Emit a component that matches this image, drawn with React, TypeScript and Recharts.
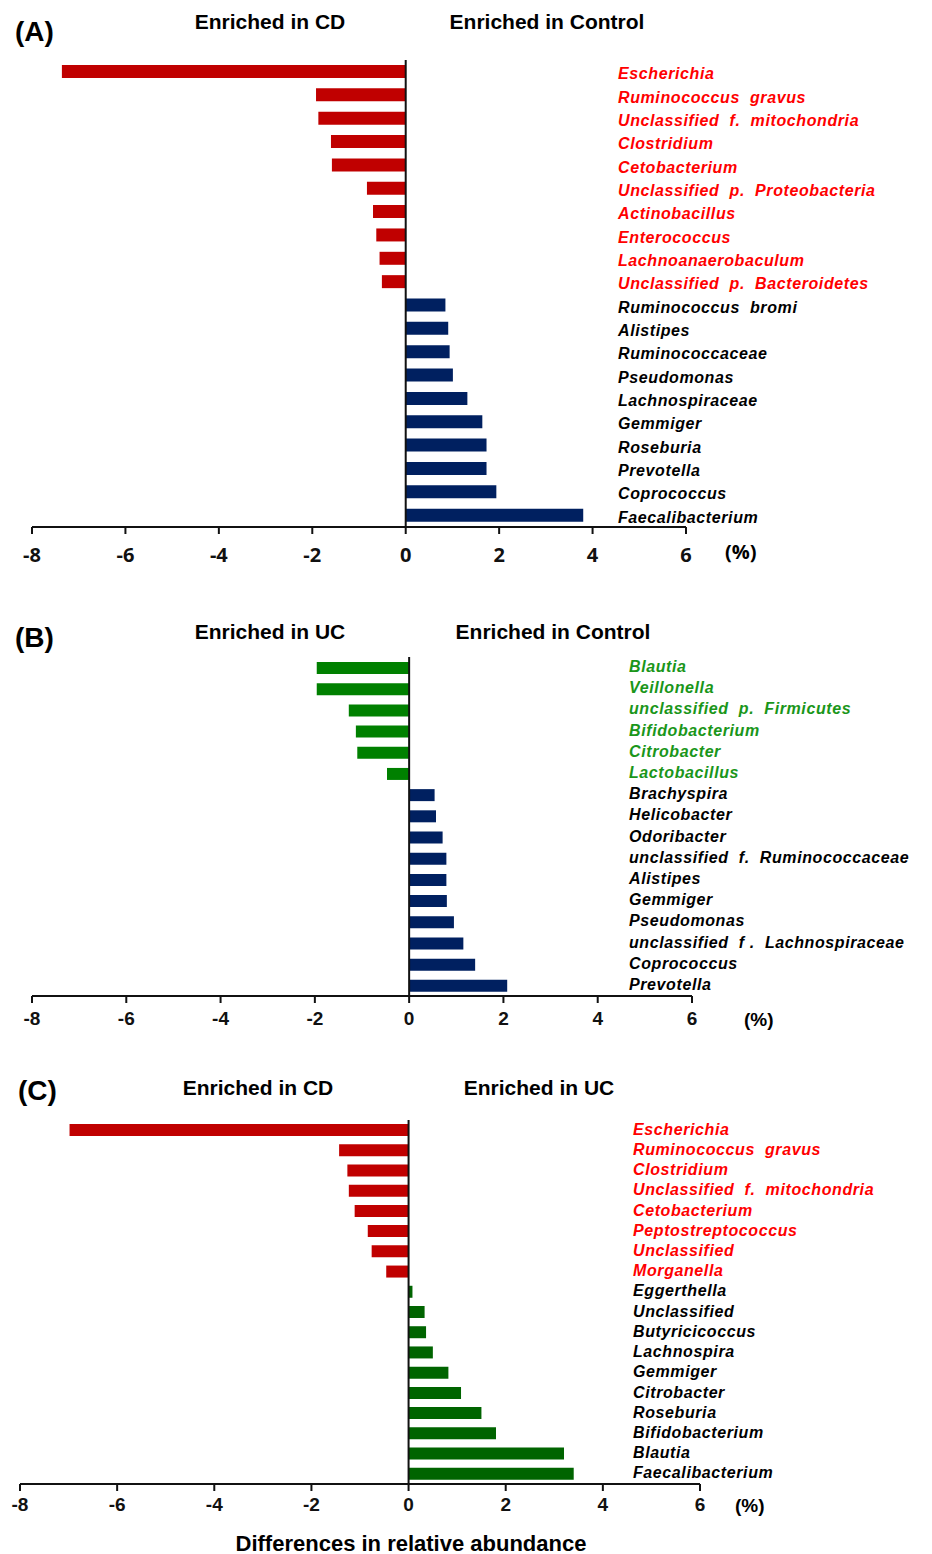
import React from 'react';
import { BarChart, Bar, XAxis, YAxis, ReferenceLine, Cell } from 'recharts';

// ---------- data ----------
const xTicks = [-8, -6, -4, -2, 0, 2, 4, 6];

const aCategories = [
  'Escherichia', 'Ruminococcus  gravus', 'Unclassified  f.  mitochondria', 'Clostridium', 'Cetobacterium',
  'Unclassified  p.  Proteobacteria', 'Actinobacillus', 'Enterococcus', 'Lachnoanaerobaculum',
  'Unclassified  p.  Bacteroidetes', 'Ruminococcus  bromi', 'Alistipes', 'Ruminococcaceae', 'Pseudomonas',
  'Lachnospiraceae', 'Gemmiger', 'Roseburia', 'Prevotella', 'Coprococcus', 'Faecalibacterium',
];
const aValues = [
  -7.36, -1.92, -1.87, -1.6, -1.58, -0.83, -0.7, -0.63, -0.56, -0.51,
  0.85, 0.91, 0.94, 1.01, 1.32, 1.64, 1.73, 1.73, 1.94, 3.8,
];

const bCategories = [
  'Blautia', 'Veillonella', 'unclassified  p.  Firmicutes', 'Bifidobacterium', 'Citrobacter', 'Lactobacillus',
  'Brachyspira', 'Helicobacter', 'Odoribacter', 'unclassified  f.  Ruminococcaceae', 'Alistipes', 'Gemmiger',
  'Pseudomonas', 'unclassified  f .  Lachnospiraceae', 'Coprococcus', 'Prevotella',
];
const bValues = [
  -1.96, -1.96, -1.28, -1.13, -1.1, -0.47,
  0.54, 0.57, 0.71, 0.79, 0.79, 0.8, 0.95, 1.15, 1.4, 2.08,
];

const cCategories = [
  'Escherichia', 'Ruminococcus  gravus', 'Clostridium', 'Unclassified  f.  mitochondria', 'Cetobacterium',
  'Peptostreptococcus', 'Unclassified', 'Morganella', 'Eggerthella', 'Unclassified', 'Butyricicoccus',
  'Lachnospira', 'Gemmiger', 'Citrobacter', 'Roseburia', 'Bifidobacterium', 'Blautia', 'Faecalibacterium',
];
const cValues = [
  -6.98, -1.43, -1.26, -1.23, -1.11, -0.84, -0.76, -0.46,
  0.08, 0.33, 0.36, 0.5, 0.82, 1.08, 1.5, 1.8, 3.2, 3.4,
];

// ---------- styles ----------
const RED_BAR = '#C00000';
const NAVY_BAR = '#002060';
const GREEN_BAR_B = '#008000';
const GREEN_BAR_C = '#006400';
const RED_TEXT = '#FF0000';
const GREEN_TEXT = '#1A961A';
const SANS = '"Liberation Sans", Arial, sans-serif';
const OPEN = '"Open Sans", "Liberation Sans", sans-serif';

type PanelProps = {
  top: number;
  height: number;
  categories: string[];
  values: number[];
  negBar: string;
  posBar: string;
  negText: string;
  posText: string;
  plotTop: number;
  axisY: number;
  axisLeft: number;
  axisRight: number;
  barSize: number;
  labelX: number;
  tickMargin: number;
  tickFont: string;
  tickSizeFont: number;
  labelDy: number;
};

function Panel(p: PanelProps) {
  const data = p.categories.map((name, i) => ({ name: `${i}|${name}`, value: p.values[i] }));
  const xAxisHeight = 40;
  const yAxisWidth = 932 - p.axisRight;
  const LabelTick = (props: any) => {
    const { x, y, payload } = props;
    const raw = String(payload.value);
    const idx = Number(raw.split('|')[0]);
    const label = raw.slice(raw.indexOf('|') + 1);
    const color = p.values[idx] < 0 ? p.negText : p.posText;
    return (
      <text
        x={x + (p.labelX - p.axisRight)}
        y={y + p.labelDy}
        dominantBaseline="central"
        textAnchor="start"
        fill={color}
        style={{ fontFamily: SANS, fontWeight: 700, fontStyle: 'italic', fontSize: 16, letterSpacing: 0.6, whiteSpace: 'pre' }}
      >
        {label}
      </text>
    );
  };
  return (
    <div style={{ position: 'absolute', left: 0, top: p.top }}>
      <BarChart
        width={932}
        height={p.height}
        data={data}
        layout="vertical"
        margin={{ top: p.plotTop, left: p.axisLeft, right: 0, bottom: p.height - p.axisY - xAxisHeight }}
        barSize={p.barSize}
      >
        <XAxis
          type="number"
          domain={[-8, 6]}
          ticks={xTicks}
          interval={0}
          height={xAxisHeight}
          axisLine={{ stroke: '#111', strokeWidth: 2 }}
          tickLine={{ stroke: '#111', strokeWidth: 2 }}
          tickSize={7}
          tickMargin={p.tickMargin}
          tick={{ fill: '#111', fontSize: p.tickSizeFont, fontWeight: 700, fontFamily: p.tickFont }}
        />
        <YAxis
          type="category"
          dataKey="name"
          orientation="right"
          width={yAxisWidth}
          axisLine={false}
          tickLine={false}
          tickSize={0}
          tickMargin={0}
          interval={0}
          tick={<LabelTick />}
        />
        <ReferenceLine x={0} stroke="#111" strokeWidth={2} ifOverflow="extendDomain" />
        <Bar dataKey="value" isAnimationActive={false}>
          {data.map((d, i) => (
            <Cell key={i} fill={d.value < 0 ? p.negBar : p.posBar} />
          ))}
        </Bar>
      </BarChart>
    </div>
  );
}

const headerStyle: React.CSSProperties = { fontFamily: SANS, fontWeight: 700, fontSize: 21 };
const letterStyle: React.CSSProperties = { fontFamily: SANS, fontWeight: 700, fontSize: 28 };

export default function App() {
  return (
    <div style={{ position: 'absolute', left: 0, top: 0, width: 932, height: 1554, background: '#fff', overflow: 'hidden' }}>
      <Panel
        top={0} height={580} categories={aCategories} values={aValues}
        negBar={RED_BAR} posBar={NAVY_BAR} negText={RED_TEXT} posText="#000"
        plotTop={60} axisY={527} axisLeft={32} axisRight={686} barSize={13} labelX={618}
        tickMargin={14} tickFont={OPEN} tickSizeFont={20} labelDy={2}
      />
      <Panel
        top={600} height={440} categories={bCategories} values={bValues}
        negBar={GREEN_BAR_B} posBar={NAVY_BAR} negText={GREEN_TEXT} posText="#000"
        plotTop={57} axisY={396} axisLeft={32} axisRight={692} barSize={12} labelX={629}
        tickMargin={9} tickFont={SANS} tickSizeFont={19} labelDy={-1}
      />
      <Panel
        top={1100} height={430} categories={cCategories} values={cValues}
        negBar={RED_BAR} posBar={GREEN_BAR_C} negText={RED_TEXT} posText="#000"
        plotTop={20} axisY={384} axisLeft={20} axisRight={700} barSize={12} labelX={633}
        tickMargin={7} tickFont={SANS} tickSizeFont={19} labelDy={-1}
      />
      <svg width={932} height={1554} style={{ position: 'absolute', left: 0, top: 0, pointerEvents: 'none' }}>
        <text x={15} y={31} dominantBaseline="central" style={letterStyle}>(A)</text>
        <text x={270} y={21} textAnchor="middle" dominantBaseline="central" style={headerStyle}>Enriched in CD</text>
        <text x={547} y={21} textAnchor="middle" dominantBaseline="central" style={headerStyle}>Enriched in Control</text>
        <text x={725} y={551} dominantBaseline="central" style={{ fontFamily: OPEN, fontWeight: 700, fontSize: 20 }}>(%)</text>

        <text x={15} y={637} dominantBaseline="central" style={letterStyle}>(B)</text>
        <text x={270} y={631} textAnchor="middle" dominantBaseline="central" style={headerStyle}>Enriched in UC</text>
        <text x={553} y={631} textAnchor="middle" dominantBaseline="central" style={headerStyle}>Enriched in Control</text>
        <text x={744} y={1019} dominantBaseline="central" style={{ fontFamily: SANS, fontWeight: 700, fontSize: 19 }}>(%)</text>

        <text x={18} y={1090} dominantBaseline="central" style={letterStyle}>(C)</text>
        <text x={258} y={1087} textAnchor="middle" dominantBaseline="central" style={headerStyle}>Enriched in CD</text>
        <text x={539} y={1087} textAnchor="middle" dominantBaseline="central" style={headerStyle}>Enriched in UC</text>
        <text x={735} y={1505} dominantBaseline="central" style={{ fontFamily: SANS, fontWeight: 700, fontSize: 19 }}>(%)</text>

        <text x={411} y={1543} textAnchor="middle" dominantBaseline="central" style={{ fontFamily: SANS, fontWeight: 700, fontSize: 22 }}>
          Differences in relative abundance
        </text>
      </svg>
    </div>
  );
}
